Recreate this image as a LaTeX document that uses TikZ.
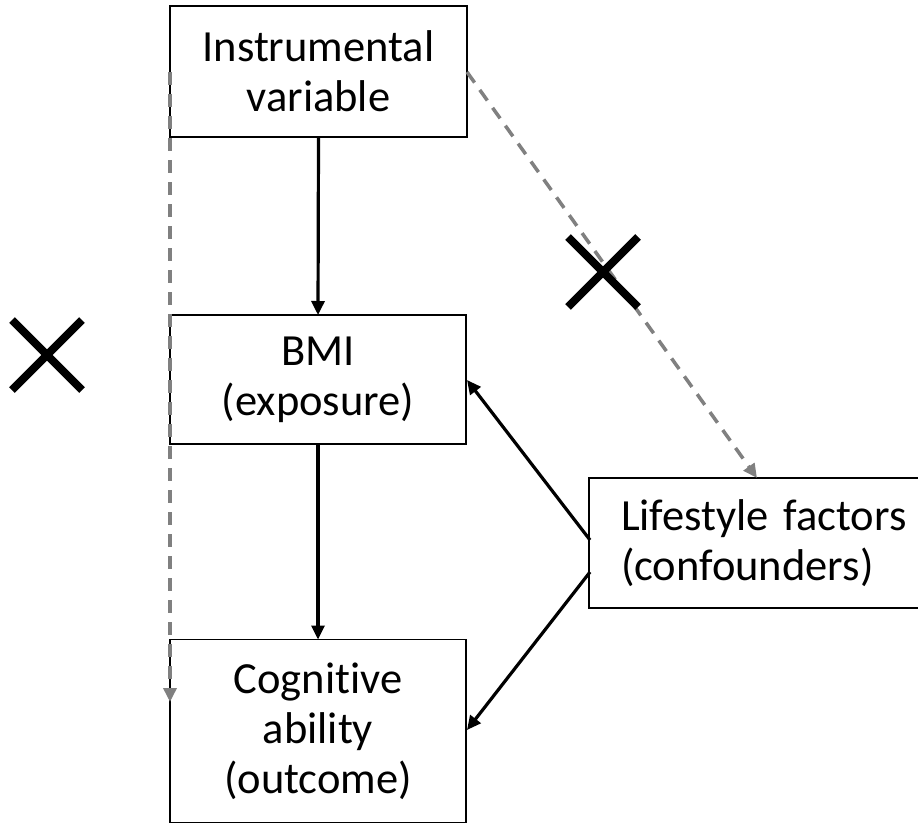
\documentclass[tikz,border=0pt]{standalone}
\usepackage{fontspec}
\setmainfont[Ligatures=NoCommon]{Carlito}
\usetikzlibrary{arrows.meta}
\begin{document}
\begin{tikzpicture}[x=1pt,y=-1pt,
  box/.style={draw=black,line width=1.8pt,inner sep=0pt,outer sep=0pt,align=center,
    font=\fontsize{44.5}{50}\selectfont},
  solidarrow/.style={line width=3.2pt,-{Triangle[length=14pt,width=13pt]}},
  grayarrow/.style={line width=3.5pt,draw={rgb,255:red,128;green,128;blue,128},dash pattern=on 13pt off 9pt,
    -{Triangle[length=14pt,width=13pt]}},
  crossline/.style={line width=8pt}]
\useasboundingbox (0,0) rectangle (918,825);
\node[box,minimum width=297pt,minimum height=131pt] (iv) at (318.5,71.5) {Instrumental\\variable};
\node[box,minimum width=296pt,minimum height=129pt] (bmi) at (318,379.5) {BMI\\(exposure)};
\node[box,minimum width=296pt,minimum height=183pt] (cog) at (318,731) {Cognitive\\ability\\(outcome)};
\node[box,minimum width=332pt,minimum height=130pt,align=left,anchor=west,text width=310pt] (life) at (589,543) {\hspace*{21pt}Lifestyle factors\\\hspace*{21pt}(confounders)};
\coordinate (ivl) at (170,72);
\coordinate (cogl) at (170,702);
\coordinate (ivr) at (467,72);
\coordinate (lifet) at (757,478);
\coordinate (bmir) at (467,380);
\coordinate (cogr) at (467,730);
\coordinate (lifeu) at (590,540);
\coordinate (lifed) at (590,572);
\draw[solidarrow] (iv.south) -- (bmi.north);
\draw[solidarrow] (bmi.south) -- (cog.north);
\draw[solidarrow] (lifeu) -- (bmir);
\draw[solidarrow] (lifed) -- (cogr);
\draw[grayarrow] (ivr) -- (lifet);
\draw[grayarrow] (ivl) -- (cogl);
\coordinate (x1) at (47,355);
\coordinate (x2) at (603,272);
\draw[crossline] ([shift={(-35,-35)}]x1) -- ([shift={(35,35)}]x1);
\draw[crossline] ([shift={(-35,35)}]x1) -- ([shift={(35,-35)}]x1);
\draw[crossline] ([shift={(-35,-35)}]x2) -- ([shift={(35,35)}]x2);
\draw[crossline] ([shift={(-35,35)}]x2) -- ([shift={(35,-35)}]x2);
\end{tikzpicture}
\end{document}
